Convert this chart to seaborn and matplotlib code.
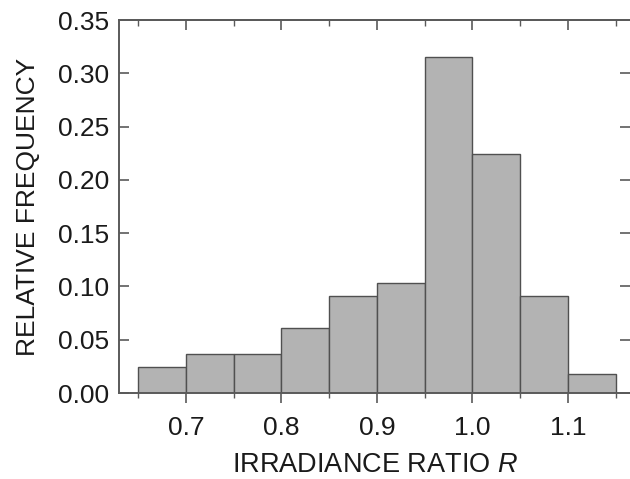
import matplotlib
matplotlib.use("Agg")
import matplotlib.pyplot as plt
import seaborn as sns
import numpy as np
from matplotlib.ticker import MultipleLocator

bin_edges = [0.65, 0.70, 0.75, 0.80, 0.85, 0.90, 0.95, 1.00, 1.05, 1.10, 1.15]
rel_freq = [0.0245, 0.0366, 0.0366, 0.0607, 0.0910, 0.1030, 0.3150, 0.2240, 0.0910, 0.0183]
x_ticks = [0.7, 0.8, 0.9, 1.0, 1.1]
y_ticks = [0.00, 0.05, 0.10, 0.15, 0.20, 0.25, 0.30, 0.35]

sns.set_theme(style="ticks")
plt.rcParams['font.family'] = ['Liberation Sans', 'DejaVu Sans']
plt.rcParams['mathtext.fontset'] = 'custom'
plt.rcParams['mathtext.it'] = 'Liberation Sans:italic'
plt.rcParams['mathtext.rm'] = 'Liberation Sans'

centers = [(a + b) / 2 for a, b in zip(bin_edges[:-1], bin_edges[1:])]

fig = plt.figure(figsize=(6.3, 4.79), dpi=100)
ax = fig.add_axes([0.189, 0.1795, 0.811, 0.7785])

spine_col = "#5a5a5a"
sns.histplot(x=centers, weights=rel_freq, bins=bin_edges, stat="count",
             color="#b3b3b3", edgecolor="#505050", linewidth=1.0, alpha=1.0, ax=ax)

ax.set_xlim(0.63, 1.165)
ax.set_ylim(0, 0.35)
ax.set_xticks(x_ticks)
ax.set_xticklabels([f"{v:.1f}" for v in x_ticks])
ax.xaxis.set_minor_locator(MultipleLocator(0.05))
ax.set_yticks(y_ticks)
ax.set_yticklabels([f"{v:.2f}" for v in y_ticks])

for s in ["left", "bottom", "top"]:
    ax.spines[s].set_color(spine_col)
    ax.spines[s].set_linewidth(1.4)
ax.spines["right"].set_visible(False)

fs = 19
ax.tick_params(axis="x", which="major", direction="out", length=7.5, width=1.2,
               color=spine_col, labelsize=fs, pad=9, labelcolor="#1a1a1a",
               top=False, bottom=True)
ax.tick_params(axis="x", which="minor", direction="out", length=3.5, width=1.0,
               color=spine_col, top=False, bottom=True)
ax.tick_params(axis="y", which="major", direction="in", length=7, width=1.2,
               color=spine_col, labelsize=fs, pad=7, labelcolor="#1a1a1a",
               left=True, right=True)

sec = ax.secondary_xaxis("top")
sec.set_xticks(x_ticks)
sec.set_xticklabels([])
sec.xaxis.set_minor_locator(MultipleLocator(0.05))
sec.tick_params(axis="x", which="major", direction="in", length=7.5, width=1.2, color=spine_col)
sec.tick_params(axis="x", which="minor", direction="in", length=4, width=1.0, color=spine_col)
sec.spines["top"].set_color(spine_col)
sec.spines["top"].set_linewidth(1.4)

ax.set_xlabel("IRRADIANCE RATIO $\\it{R}$", fontsize=19.5, color="#1a1a1a", labelpad=9)
ax.set_ylabel("RELATIVE FREQUENCY", fontsize=fs, color="#1a1a1a", labelpad=13)

fig.savefig("out.png", dpi=100)
